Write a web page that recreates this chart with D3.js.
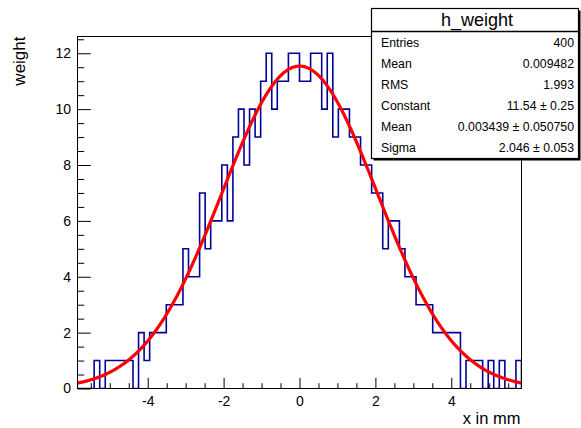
<!DOCTYPE html>
<html><head><meta charset="utf-8">
<script src="https://cdn.jsdelivr.net/npm/d3@7"></script>
<style>
body{margin:0;background:#fff;}
svg{display:block;}
text{font-family:"Liberation Sans", Arial, Helvetica, sans-serif;fill:#000;}
</style>
</head><body>
<svg id="c" width="581" height="428"></svg>
<script>
// ---- data ----
const histTitle = "h_weight";
const xRange = [-5.85, 5.85];
const yMax = 12.6;
const counts = [0,0,0,1,0,1,1,1,1,1, 0,2,1,2,2,2,3,3,3,5,
                4,4,7,5,6,6,8,6,9,10, 8,10,9,11,12,10,11,11,12,12,
                11,11,12,12,10,12,9,10,10,9, 9,8,8,7,7,5,6,6,5,4,
                4,3,3,3,2,2,2,2,2,0, 1,1,1,0,1,0,1,0,0,1];
const xTicks = [-4,-2,0,2,4];
const xTickLabels = ["-4","-2","0","2","4"];
const yTicks = [0,2,4,6,8,10,12];
const yTickLabels = ["0","2","4","6","8","10","12"];
const xTitle = "x in mm";
const yTitle = "weight";
const fitConstant = 11.54;
const fitMean = 0.003439;
const fitSigma = 2.046;
const statNames = ["Entries","Mean","RMS","Constant","Mean","Sigma"];
const statValues = ["400","0.009482","1.993","11.54 \u00b1 0.25","0.003439 \u00b1 0.050750","2.046 \u00b1 0.053"];

// ---- layout ----
const L = 77.5, R = 521.5, T = 36.5, B = 388.5;
const svg = d3.select("#c");
const x = d3.scaleLinear(xRange, [L, R]);
const y = d3.scaleLinear([0, yMax], [B, T]);

svg.append("rect").attr("width",581).attr("height",428).attr("fill","#fff");
svg.append("defs").append("clipPath").attr("id","clip")
  .append("rect").attr("x",L).attr("y",T).attr("width",R-L).attr("height",B-T);

// histogram outline
const nb = counts.length;
const bw = (xRange[1]-xRange[0])/nb;
const pts = [[xRange[0],0]];
counts.forEach((c,i)=>{ pts.push([xRange[0]+i*bw, c]); pts.push([xRange[0]+(i+1)*bw, c]); });
pts.push([xRange[1],0]);
svg.append("path")
  .attr("d", d3.line().x(d=>x(d[0])).y(d=>y(d[1]))(pts))
  .attr("fill","none").attr("stroke","#000099").attr("stroke-width",1.6)
  .attr("clip-path","url(#clip)");

// fit curve
const gx = d3.range(0, 401).map(i => xRange[0] + i*(xRange[1]-xRange[0])/400);
const gauss = v => fitConstant*Math.exp(-0.5*Math.pow((v-fitMean)/fitSigma,2));
svg.append("path")
  .attr("d", d3.line().x(d=>x(d)).y(d=>y(gauss(d)))(gx))
  .attr("fill","none").attr("stroke","#ff0000").attr("stroke-width",3.2)
  .attr("stroke-linejoin","round").attr("clip-path","url(#clip)");

// frame
svg.append("rect").attr("x",L).attr("y",T).attr("width",R-L).attr("height",B-T)
  .attr("fill","none").attr("stroke","#000").attr("stroke-width",1);

// minor ticks
const xMinor = d3.range(-11, 12).map(k=>k*0.5).filter(v=>v>xRange[0] && v<xRange[1] && !xTicks.includes(v));
const yMinor = d3.range(0, 26).map(k=>k*0.5).filter(v=>v<yMax && !yTicks.includes(v));
const gxm = svg.append("g").attr("transform",`translate(0,${B})`)
  .call(d3.axisBottom(x).tickValues(xMinor).tickFormat("").tickSizeInner(-5.3).tickSizeOuter(0));
gxm.select(".domain").remove();
const gym = svg.append("g").attr("transform",`translate(${L},0)`)
  .call(d3.axisLeft(y).tickValues(yMinor).tickFormat("").tickSizeInner(-6.7).tickSizeOuter(0));
gym.select(".domain").remove();

// major ticks + labels
const gxa = svg.append("g").attr("transform",`translate(0,${B})`)
  .call(d3.axisBottom(x).tickValues(xTicks).tickFormat((d,i)=>xTickLabels[i])
        .tickSizeInner(-10.6).tickSizeOuter(0).tickPadding(8));
gxa.select(".domain").remove();
const gya = svg.append("g").attr("transform",`translate(${L},0)`)
  .call(d3.axisLeft(y).tickValues(yTicks).tickFormat((d,i)=>yTickLabels[i])
        .tickSizeInner(-13.3).tickSizeOuter(0).tickPadding(6.5));
gya.select(".domain").remove();
svg.selectAll(".tick text").attr("font-size",14).attr("font-family",'"Liberation Sans", Arial, sans-serif').attr("fill","#000");
svg.selectAll(".tick line").attr("stroke","#000");

// axis titles
svg.append("text").attr("x",R-1).attr("y",424).attr("text-anchor","end")
  .attr("font-size",16.5).text(xTitle);
svg.append("text").attr("transform",`translate(25,${T}) rotate(-90)`).attr("text-anchor","end")
  .attr("font-size",17).text(yTitle);

// stats box
const sb = {x:371.5, y:8.5, w:207, h:150};
svg.append("rect").attr("x",sb.x+2).attr("y",sb.y+2).attr("width",sb.w).attr("height",sb.h).attr("fill","#000");
svg.append("rect").attr("x",sb.x).attr("y",sb.y).attr("width",sb.w).attr("height",sb.h)
  .attr("fill","#fff").attr("stroke","#000").attr("stroke-width",1.2);
svg.append("line").attr("x1",sb.x).attr("x2",sb.x+sb.w).attr("y1",31.5).attr("y2",31.5)
  .attr("stroke","#000").attr("stroke-width",1.5);
svg.append("text").attr("x",sb.x+sb.w/2+2).attr("y",25.5).attr("text-anchor","middle")
  .attr("font-size",18).text(histTitle);
statNames.forEach((n,i)=>{
  svg.append("text").attr("x",381).attr("y",47+21*i).attr("font-size",12.3).text(n);
  svg.append("text").attr("x",574).attr("y",47+21*i).attr("font-size",12.3).attr("text-anchor","end").text(statValues[i]);
});
</script>
</body></html>
